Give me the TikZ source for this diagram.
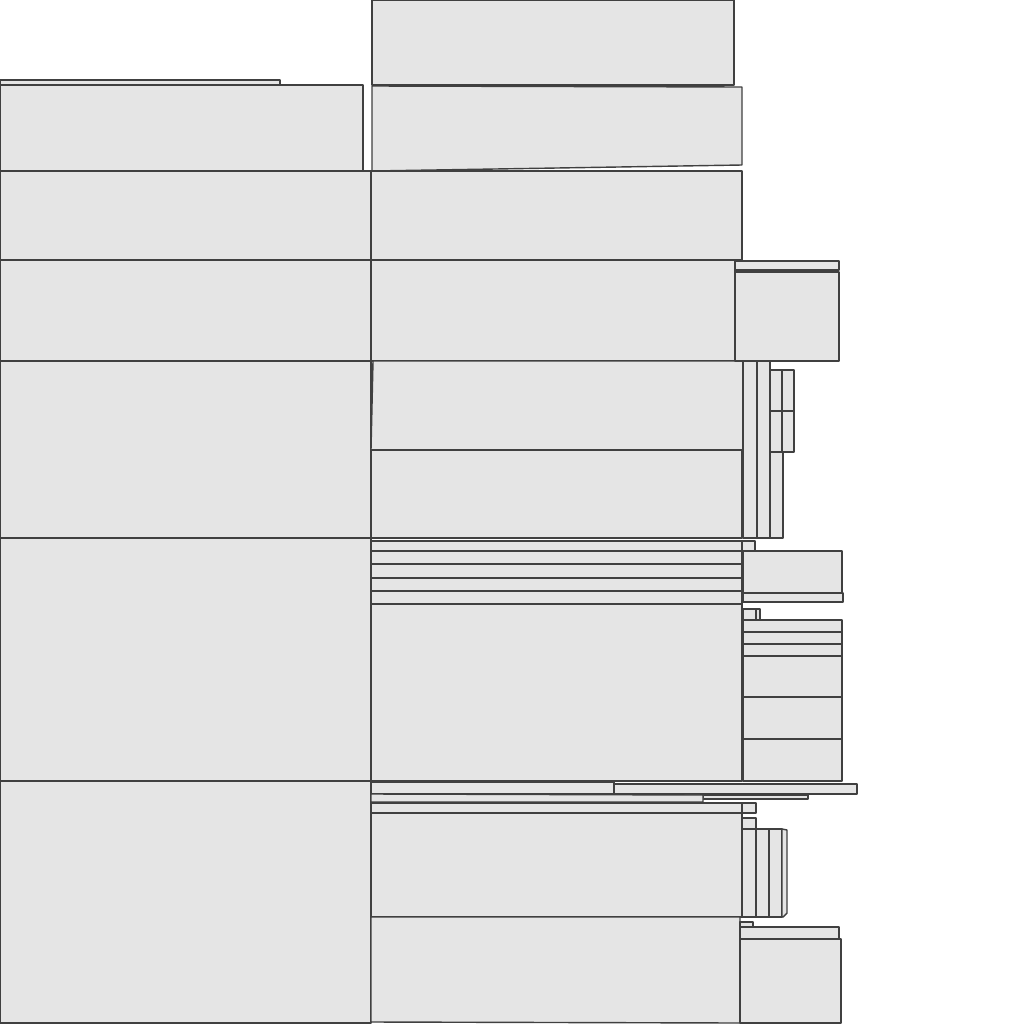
\documentclass[tikz,border=0pt]{standalone}
\usepackage{tikz}
\usetikzlibrary{calc}
\tikzset{
	blk/.style={draw=black!75, fill=black!10, line width=0.4pt, line join=round}
}
\begin{document}
\begin{tikzpicture}[x=0.01cm,y=-0.01cm]
		\useasboundingbox (0,0) rectangle (1024,1024);
		
		%--- Left column ---
		\begin{scope}
			\draw[blk] (0,80) rectangle (280,85);
			\draw[blk] (0,85) rectangle (363,171);
			\draw[blk] (0,171) rectangle (371,260);
			\draw[blk] (0,260) rectangle (371,361);
			\draw[blk] (0,361) rectangle (371,538);
			\draw[blk] (0,538) rectangle (371,781);
			\draw[blk] (0,781) rectangle (371,1023);
		\end{scope}
		
		%--- Middle column ---
		\begin{scope}
			% Upper blocks
			\draw[blk] (372,0) rectangle (734,85);
			\draw[blk] (372,86) -- (742,87) -- (742,165) -- (372,171) -- cycle;
			\draw[blk] (371,171) rectangle (742,260);
			\draw[blk] (371,260) rectangle (735,361);
			\draw[blk] (373,361) -- (743,361) -- (743,450) -- (371,450) -- cycle;
			\draw[blk] (371,450) rectangle (742,538);
			
			% Thin strips
			\foreach \ya/\yb in {541/551, 551/564, 564/578, 578/591, 591/604}
				\draw[blk] (371,\ya) rectangle (742,\yb);
			\draw[blk] (371,604) rectangle (742,781);
			
			% Lower blocks
			\draw[blk] (371,782) rectangle (614,794);
			\draw[blk] (614,784) rectangle (857,794);
			\draw[blk] (703,795) rectangle (808,799);
			\draw[blk] (371,794) -- (703,795) -- (703,802) -- (371,802) -- cycle;
			\draw[blk] (371,803) rectangle (742,813);
			\draw[blk] (371,813) rectangle (742,917);
			\draw[blk] (371,917) -- (740,917) -- (740,1023) -- (371,1022) -- cycle;
		\end{scope}
		
		%--- Right column ---
		\begin{scope}
			% Beside row 4
			\draw[blk] (735,261) rectangle (839,270);
			\draw[blk] (735,272) rectangle (839,361);
			
			% Tall stripes beside row 5
			\draw[blk] (743,361) rectangle (757,538);
			\draw[blk] (757,361) rectangle (770,538);
			\draw[blk] (770,370) rectangle (782,411);
			\draw[blk] (782,370) rectangle (794,411);
			\draw[blk] (770,411) rectangle (782,452);
			\draw[blk] (782,411) rectangle (794,452);
			\draw[blk] (770,452) rectangle (783,538);
			
			% Beside row 6
			\draw[blk] (742,541) rectangle (755,551);
			\draw[blk] (743,551) rectangle (842,593);
			\draw[blk] (743,593) rectangle (843,602);
			\draw[blk] (743,609) rectangle (756,620);
			\draw[blk] (756,609) rectangle (760,620);
			\foreach \ya/\yb in {620/632, 632/644, 644/656, 656/697, 697/739, 739/781}
				\draw[blk] (743,\ya) rectangle (842,\yb);
			
			% Beside row 7
			\draw[blk] (742,803) rectangle (756,813);
			\draw[blk] (742,818) rectangle (756,829);
			\draw[blk] (742,829) rectangle (756,917);
			\draw[blk] (756,829) rectangle (769,917);
			\draw[blk] (769,829) rectangle (782,917);
			\draw[blk] (782,829) -- (787,830) -- (787,913) -- (783,917) -- (782,917) -- cycle;
			\draw[blk] (740,922) rectangle (753,927);
			\draw[blk] (740,927) rectangle (839,939);
			\draw[blk] (740,939) rectangle (841,1023);
		\end{scope}
		
	\end{tikzpicture}
\end{document}
